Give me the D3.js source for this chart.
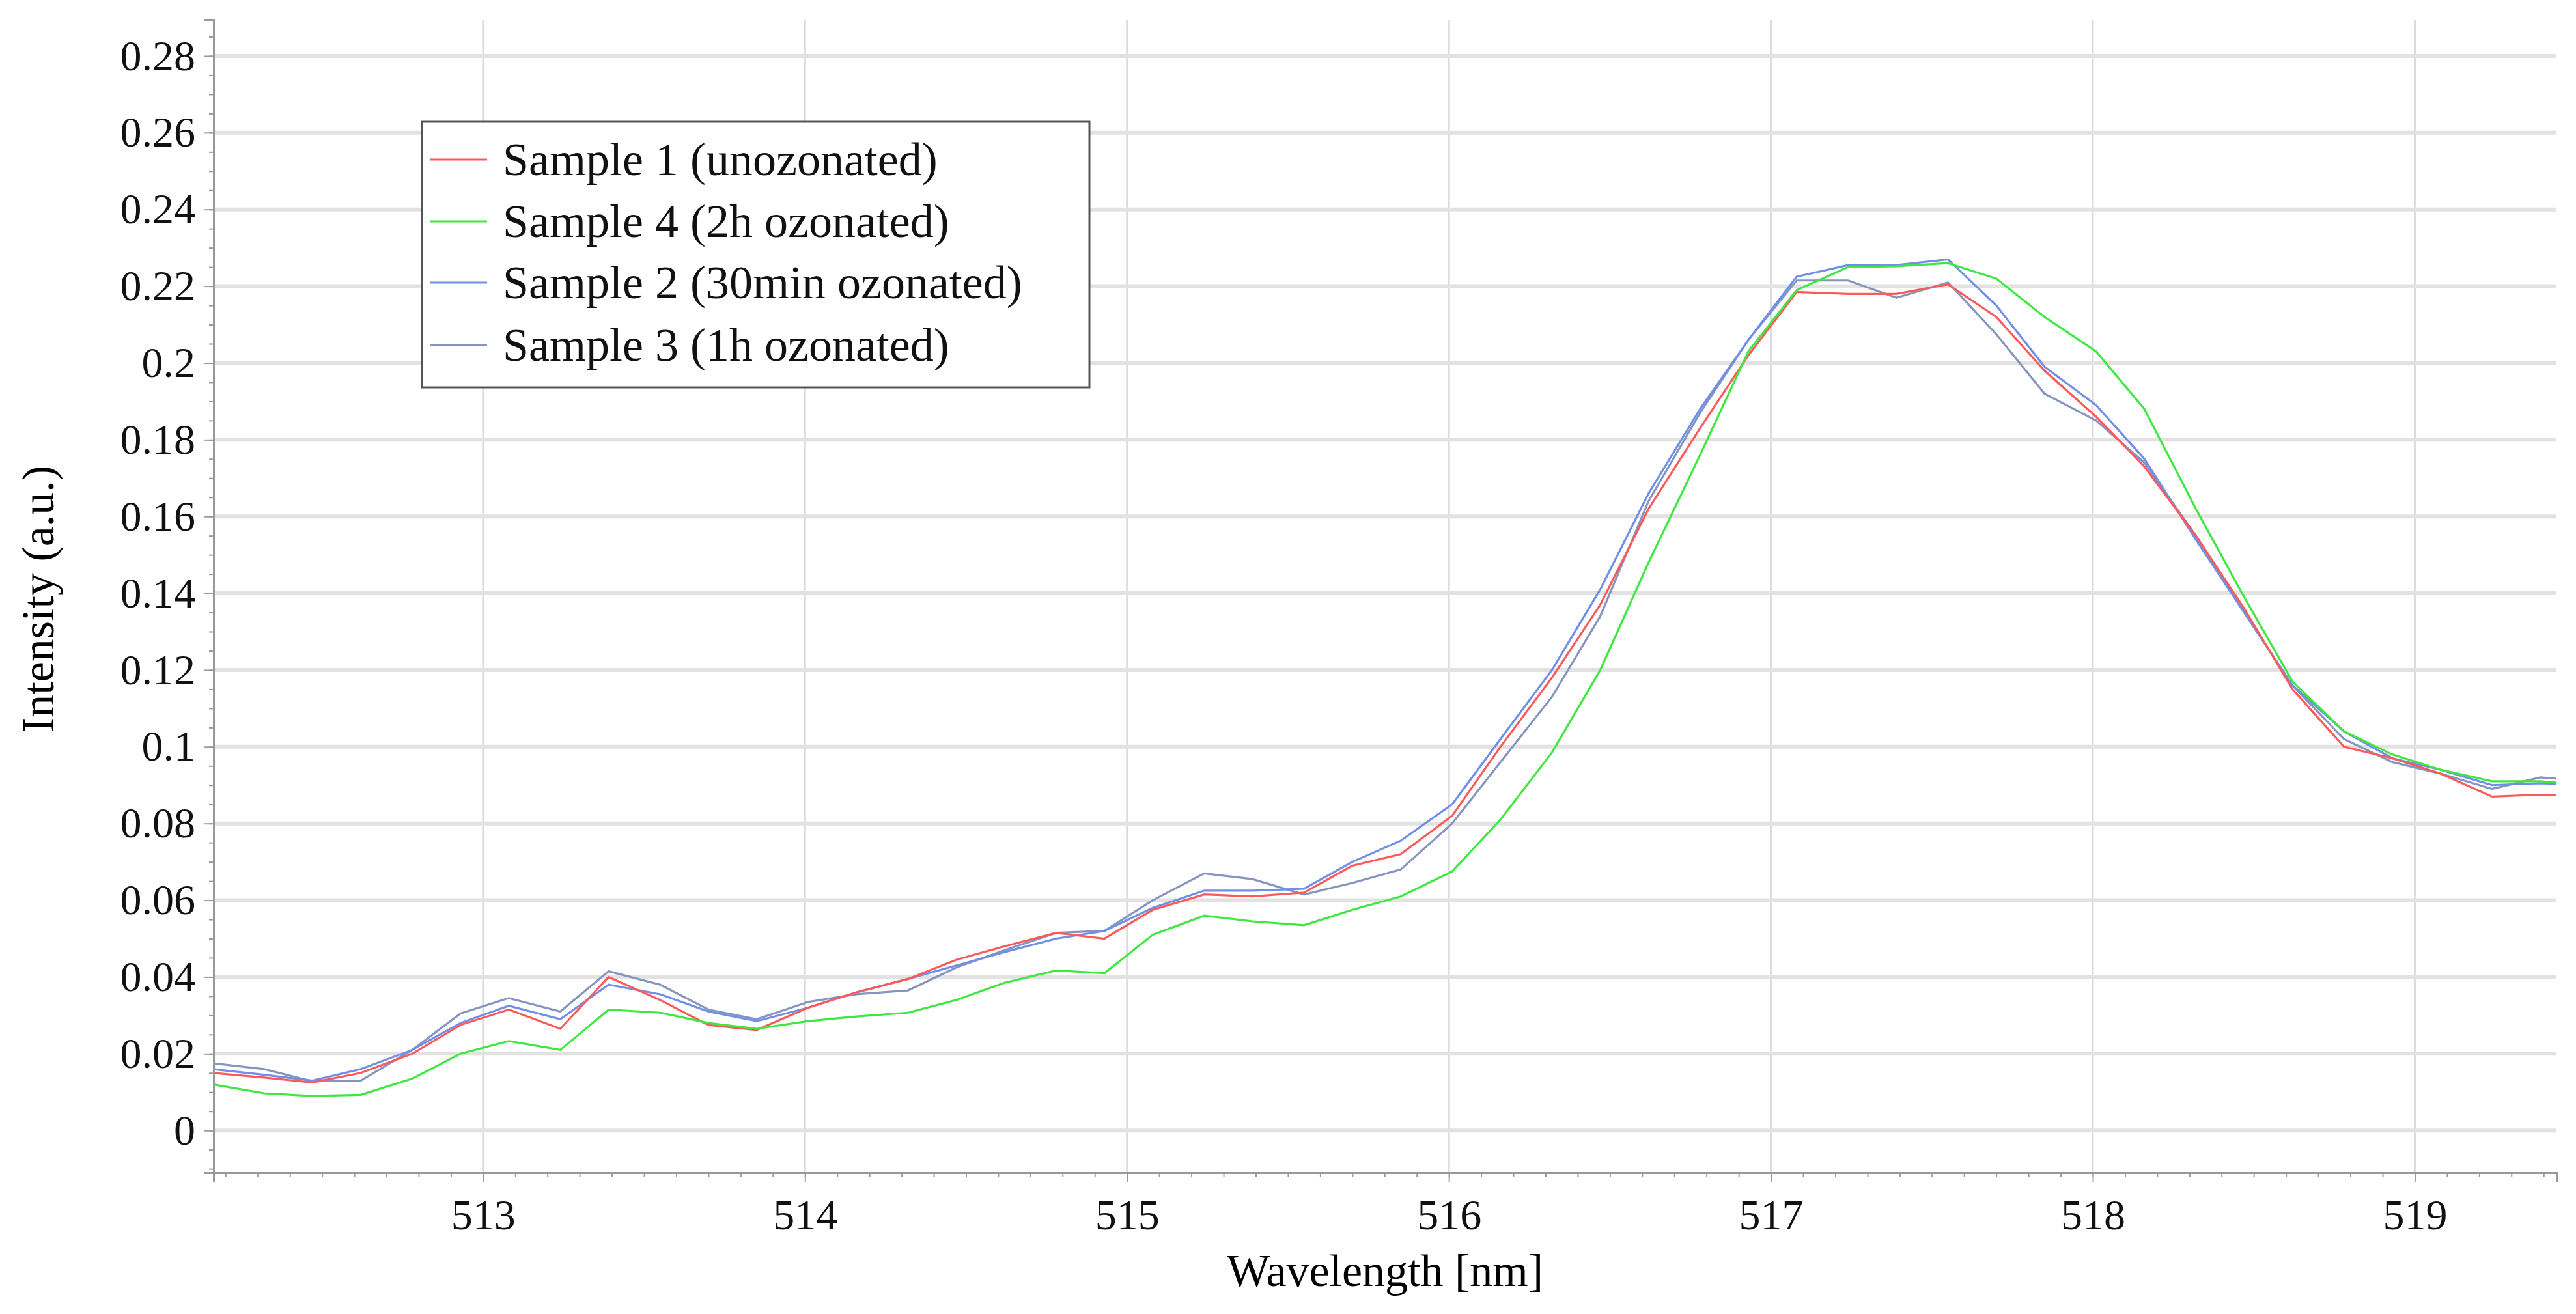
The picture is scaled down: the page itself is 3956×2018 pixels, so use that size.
<!DOCTYPE html>
<html><head><meta charset="utf-8">
<script src="https://cdn.jsdelivr.net/npm/d3@7"></script>
<style>body{margin:0;background:#fff} text{font-family:"Liberation Serif","Times New Roman",Tinos,"DejaVu Serif",serif !important}</style></head>
<body><svg id="c" width="3956" height="2018"></svg>
<script>
const wavelength=[512.16,512.32,512.47,512.62,512.78,512.93,513.08,513.24,513.39,513.55,513.70,513.85,514.01,514.16,514.32,514.47,514.62,514.78,514.93,515.08,515.24,515.39,515.55,515.70,515.85,516.01,516.16,516.32,516.47,516.62,516.78,516.93,517.08,517.24,517.39,517.55,517.70,517.85,518.01,518.16,518.32,518.47,518.62,518.78,518.93,519.08,519.24,519.39,519.54];
const sample1=[0.0150,0.0138,0.0125,0.0150,0.0200,0.0275,0.0315,0.0265,0.0400,0.0340,0.0275,0.0262,0.0320,0.0360,0.0395,0.0445,0.0480,0.0515,0.0500,0.0575,0.0615,0.0610,0.0620,0.0690,0.0720,0.0820,0.1000,0.1180,0.1370,0.1620,0.1830,0.2020,0.2185,0.2180,0.2180,0.2205,0.2120,0.1980,0.1860,0.1730,0.1550,0.1360,0.1150,0.1000,0.0970,0.0930,0.0870,0.0875,0.0870];
const sample4=[0.0120,0.0097,0.0090,0.0093,0.0135,0.0200,0.0233,0.0210,0.0315,0.0307,0.0280,0.0265,0.0285,0.0297,0.0307,0.0340,0.0385,0.0417,0.0410,0.0510,0.0560,0.0545,0.0535,0.0575,0.0610,0.0675,0.0810,0.0985,0.1200,0.1480,0.1760,0.2030,0.2190,0.2250,0.2252,0.2260,0.2220,0.2120,0.2030,0.1880,0.1620,0.1390,0.1170,0.1040,0.0980,0.0940,0.0910,0.0910,0.0900];
const sample2=[0.0160,0.0145,0.0130,0.0160,0.0210,0.0280,0.0325,0.0290,0.0380,0.0355,0.0310,0.0285,0.0320,0.0360,0.0395,0.0430,0.0465,0.0500,0.0520,0.0580,0.0625,0.0625,0.0630,0.0700,0.0755,0.0850,0.1020,0.1200,0.1410,0.1660,0.1880,0.2060,0.2225,0.2255,0.2255,0.2270,0.2150,0.1990,0.1890,0.1750,0.1540,0.1350,0.1160,0.1040,0.0970,0.0940,0.0900,0.0905,0.0900];
const sample3=[0.0175,0.0160,0.0128,0.0130,0.0210,0.0305,0.0345,0.0310,0.0415,0.0380,0.0315,0.0290,0.0335,0.0355,0.0365,0.0425,0.0470,0.0515,0.0520,0.0600,0.0670,0.0655,0.0615,0.0645,0.0680,0.0800,0.0960,0.1130,0.1340,0.1640,0.1870,0.2060,0.2215,0.2215,0.2170,0.2210,0.2075,0.1920,0.1850,0.1740,0.1550,0.1350,0.1160,0.1020,0.0960,0.0930,0.0890,0.0920,0.0910];
const seriesNames=["Sample 1 (unozonated)","Sample 4 (2h ozonated)","Sample 2 (30min ozonated)","Sample 3 (1h ozonated)"];
const seriesValues=[sample1,sample4,sample2,sample3];
const seriesColors=["#ff5a5a","#3fe83f","#6f8fe8","#8595c0"];
const yTicks=[0,0.02,0.04,0.06,0.08,0.1,0.12,0.14,0.16,0.18,0.2,0.22,0.24,0.26,0.28];
const xTicks=[513,514,515,516,517,518,519];

const L=328,R=3926,T=30,B=1801;
const svg=d3.select("#c");
const x=d3.scaleLinear().domain([512.163,519.44]).range([L,R]);
const y=d3.scaleLinear().domain([-0.011,0.2895]).range([B,T]);

svg.append("g").selectAll("line").data(xTicks).join("line")
 .attr("x1",d=>x(d)).attr("x2",d=>x(d)).attr("y1",T).attr("y2",B)
 .attr("stroke","#dcdcdc").attr("stroke-width",3);
svg.append("g").selectAll("line").data(yTicks).join("line")
 .attr("x1",L).attr("x2",R).attr("y1",d=>y(d)).attr("y2",d=>y(d))
 .attr("stroke","#e2e2e2").attr("stroke-width",6);

svg.append("defs").append("clipPath").attr("id","clip").append("rect")
 .attr("x",L).attr("y",T).attr("width",R-L).attr("height",B-T);

const line=d3.line().x((d,i)=>x(wavelength[i])).y(d=>y(d));
svg.append("g").attr("clip-path","url(#clip)").selectAll("path").data([3,2,0,1]).join("path")
 .attr("d",k=>line(seriesValues[k])).attr("fill","none")
 .attr("stroke",k=>seriesColors[k]).attr("stroke-width",3.2);

const xa=svg.append("g").attr("transform",`translate(0,${B})`)
 .call(d3.axisBottom(x).tickValues(xTicks).tickFormat(d3.format("d")).tickSize(14).tickPadding(26));
const xm=svg.append("g").attr("transform",`translate(0,${B})`)
 .call(d3.axisBottom(x).tickValues(d3.range(5122,5195).map(v=>v/10)).tickFormat("").tickSize(7));
const ya=svg.append("g").attr("transform",`translate(${L},0)`)
 .call(d3.axisLeft(y).tickValues(yTicks).tickFormat(d=>d===0?"0":String(+d.toFixed(2))).tickSize(14).tickPadding(14));
const ym=svg.append("g").attr("transform",`translate(${L},0)`)
 .call(d3.axisLeft(y).tickValues(d3.range(-2,58).map(v=>v*0.005)).tickFormat("").tickSize(7));
[xa,xm,ya,ym].forEach(g=>{g.select(".domain").attr("stroke","#999").attr("stroke-width",3);
 g.selectAll(".tick line").attr("stroke","#999").attr("stroke-width",2);});
[xa,ya].forEach(g=>g.selectAll("text").attr("font-size",66).attr("fill","#111"));

svg.append("text").attr("x",(L+R)/2).attr("y",1975).attr("text-anchor","middle")
 .attr("font-size",70).text("Wavelength [nm]");
svg.append("text").attr("transform","translate(82,920) rotate(-90)").attr("text-anchor","middle")
 .attr("font-size",70).text("Intensity (a.u.)");

const lg=svg.append("g");
lg.append("rect").attr("x",648).attr("y",187).attr("width",1025).attr("height",408)
 .attr("fill","#fff").attr("stroke","#555").attr("stroke-width",3);
const rowY=[245,340,434,530];
seriesNames.forEach((n,i)=>{
 lg.append("line").attr("x1",661).attr("x2",748).attr("y1",rowY[i]).attr("y2",rowY[i])
  .attr("stroke",seriesColors[i]).attr("stroke-width",3.2);
 lg.append("text").attr("x",772).attr("y",rowY[i]+24)
  .attr("font-size",72).attr("fill","#111").text(n);
});
</script></body></html>
